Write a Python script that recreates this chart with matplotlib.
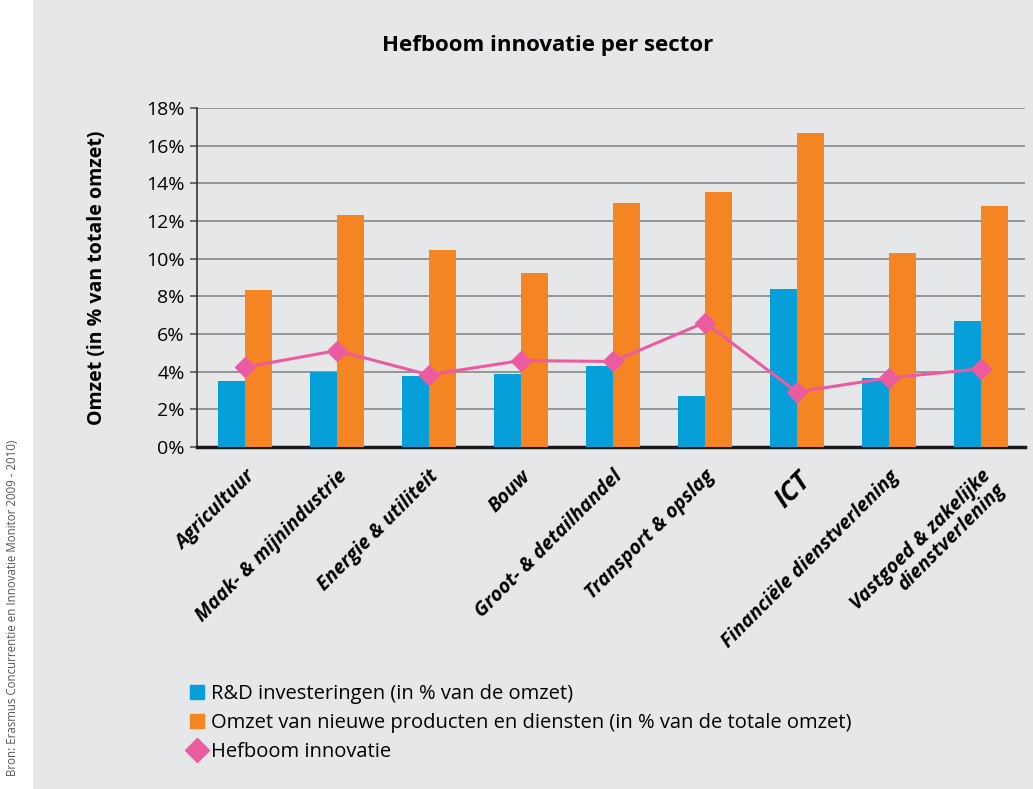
import matplotlib.pyplot as plt
import numpy as np
from matplotlib.lines import Line2D
from matplotlib.patches import Patch, Rectangle

plt.rcParams['font.family'] = ['Open Sans', 'DejaVu Sans']

sectors = ['Agricultuur', 'Maak- & mijnindustrie', 'Energie & utiliteit', 'Bouw',
           'Groot- & detailhandel', 'Transport & opslag', 'ICT',
           'Financiële dienstverlening', 'Vastgoed & zakelijke\ndienstverlening']
rd = [3.52, 3.99, 3.78, 3.90, 4.31, 2.72, 8.39, 3.67, 6.70]
omzet_nieuw = [8.34, 12.31, 10.46, 9.24, 12.95, 13.53, 16.66, 10.30, 12.79]
hefboom = [4.24, 5.12, 3.83, 4.59, 4.54, 6.61, 2.92, 3.67, 4.15]
yticks = [0, 2, 4, 6, 8, 10, 12, 14, 16, 18]

blue = '#079fd9'
orange = '#f58423'
pink = '#ec5ba0'
bg = '#e6e7e8'

fig = plt.figure(figsize=(10.33, 7.89), dpi=100, facecolor=bg)
fig.patches.append(Rectangle((0, 0), 33 / 1033, 1, transform=fig.transFigure,
                             facecolor='white', edgecolor='none', zorder=0))
ax = fig.add_axes([197 / 1033, 1 - 447 / 789, 828 / 1033, 339 / 789])
ax.set_facecolor(bg)

x = np.arange(len(sectors))
w = 0.29
ax.bar(x - w / 2, rd, w, color=blue, zorder=3)
ax.bar(x + w / 2, omzet_nieuw, w, color=orange, zorder=3)
ax.plot(x, hefboom, color=pink, lw=2.2, marker='D', markersize=10.5, zorder=4)

ax.set_xlim(-0.52, 8.48)
ax.set_ylim(0, 18)
ax.set_yticks(yticks)
ax.set_yticklabels([f'{v}%' for v in yticks], fontsize=14)
for v in yticks[1:]:
    ax.axhline(v, color='#8e8e8e', lw=1.3, zorder=1)

for s in ['top', 'right']:
    ax.spines[s].set_visible(False)
ax.spines['left'].set_color('#333333')
ax.spines['left'].set_linewidth(1.2)
ax.spines['bottom'].set_color('#1a1a1a')
ax.spines['bottom'].set_linewidth(2.5)
ax.tick_params(axis='y', length=5, width=1.2, color='#555555', pad=4)

ax.set_xticks(x)
ax.set_xticklabels(sectors, rotation=45, ha='right', rotation_mode='anchor',
                   fontsize=14, fontweight='bold', fontstyle='italic', linespacing=0.95)
ax.tick_params(axis='x', length=0, pad=14)
for lbl in ax.get_xticklabels():
    if lbl.get_text() == 'ICT':
        lbl.set_fontsize(19)

ax.set_ylabel('Omzet (in % van totale omzet)', fontsize=14, fontweight='bold', labelpad=28)
fig.text(548 / 1033, 1 - 45 / 789, 'Hefboom innovatie per sector', ha='center', va='center',
         fontsize=16, fontweight='bold')

fig.text(13 / 1033, 1 - 440 / 789, 'Bron: Erasmus Concurrentie en Innovatie Monitor 2009 - 2010)',
         rotation=90, ha='center', va='top', fontsize=8.3, color='#555555')

handles = [Patch(color=blue, label='R&D investeringen (in % van de omzet)'),
           Patch(color=orange, label='Omzet van nieuwe producten en diensten (in % van de totale omzet)'),
           Line2D([], [], color=pink, marker='D', markersize=12, lw=0, label='Hefboom innovatie')]
fig.legend(handles=handles, loc='upper left', bbox_to_anchor=(172 / 1033, 1 - 666 / 789),
           frameon=False, fontsize=14.5, handlelength=0.7, handleheight=0.7,
           handletextpad=0.35, labelspacing=0.45)

fig.savefig('out.png', dpi=100, facecolor=bg)
